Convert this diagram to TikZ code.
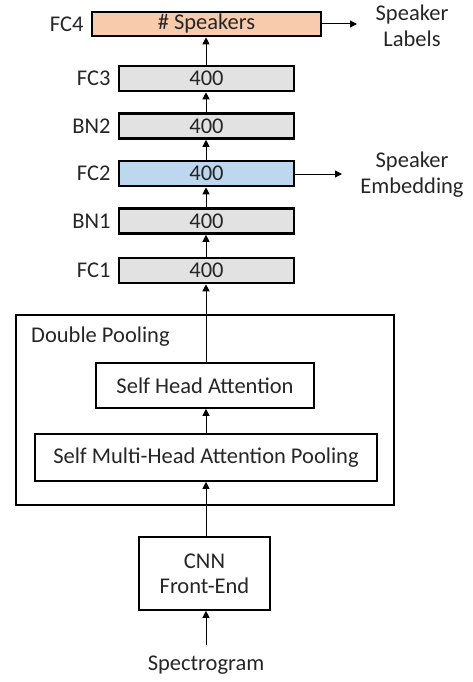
\documentclass[tikz,border=0pt]{standalone}
\usepackage{fontspec}
\setmainfont{Carlito}
\usetikzlibrary{arrows.meta,positioning}
\definecolor{fcorange}{RGB}{248,203,173}
\definecolor{fcgrey}{RGB}{226,226,226}
\definecolor{fcblue}{RGB}{189,215,238}
\definecolor{txt}{RGB}{38,38,38}
\begin{document}
\begin{tikzpicture}[x=1pt,y=-1pt,
  font=\fontsize{22.5}{26}\selectfont, text=txt,
  layer/.style={draw=black, line width=2.6pt, fill=fcgrey, minimum width=175pt, minimum height=25pt, inner sep=0pt},
  inbox/.style={draw=black, line width=1.6pt, fill=white, inner sep=0pt},
  lbl/.style={left=7pt, inner sep=0pt},
  arr/.style={line width=1pt, -{Triangle[length=7pt,width=7pt]}}]
\useasboundingbox (0,0) rectangle (473,682);
% outer pooling box
\node[draw=black, line width=1.4pt, minimum width=378pt, minimum height=190pt, inner sep=0pt] (dp) at (205,410) {};
\node[anchor=west, inner sep=0pt] (dplbl) at (31,337) {Double Pooling};
% stack
\node[layer, fill=fcorange, minimum width=229pt, minimum height=24pt] (fc4) at (206.5,24) {\# Speakers};
\node[layer] (fc3) at (206.5,78.5) {400};
\node[layer] (bn2) at (206.5,126) {400};
\node[layer, fill=fcblue] (fc2) at (206.5,173.5) {400};
\node[layer] (bn1) at (206.5,221) {400};
\node[layer] (fc1) at (206.5,270.5) {400};
\node[lbl] (l4) at (fc4.west) {FC4};
\node[lbl] (l3) at (fc3.west) {FC3};
\node[lbl] (lb2) at (bn2.west) {BN2};
\node[lbl] (l2) at (fc2.west) {FC2};
\node[lbl] (lb1) at (bn1.west) {BN1};
\node[lbl] (l1) at (fc1.west) {FC1};
% pooling internals
\node[inbox, minimum width=218pt, minimum height=45pt] (sha) at (205,385.5) {Self Head Attention};
\node[inbox, minimum width=342pt, minimum height=47pt] (smha) at (206,457.5) {Self Multi-Head Attention Pooling};
\node[inbox, minimum width=131pt, minimum height=73pt, align=center] (cnn) at (204.5,573.5) {CNN\\[-1pt]Front-End};
\node (spec) at (206,665) {Spectrogram};
% outputs
\node[align=center, inner sep=0pt] (slab) at (412,26) {Speaker\\[0pt]Labels};
\node[align=center, inner sep=0pt] (semb) at (412,175) {Speaker\\[0pt]Embedding};
\coordinate (o4) at (357,24);
\coordinate (o2) at (342,174);
\coordinate (sin) at (206,645);
% arrows
\draw[arr] (sin) -- (cnn.south -| sin);
\draw[arr] (cnn.north -| sin) -- (smha.south -| sin);
\draw[arr] (smha.north -| sin) -- (sha.south -| sin);
\draw[arr] (sha.north -| sin) -- (fc1.south -| sin);
\draw[arr] (fc1.north -| sin) -- (bn1.south -| sin);
\draw[arr] (bn1.north -| sin) -- (fc2.south -| sin);
\draw[arr] (fc2.north -| sin) -- (bn2.south -| sin);
\draw[arr] (bn2.north -| sin) -- (fc3.south -| sin);
\draw[arr] (fc3.north -| sin) -- (fc4.south -| sin);
\draw[arr] (fc4.east) -- (o4);
\draw[arr] (fc2.east |- o2) -- (o2);
\end{tikzpicture}
\end{document}
